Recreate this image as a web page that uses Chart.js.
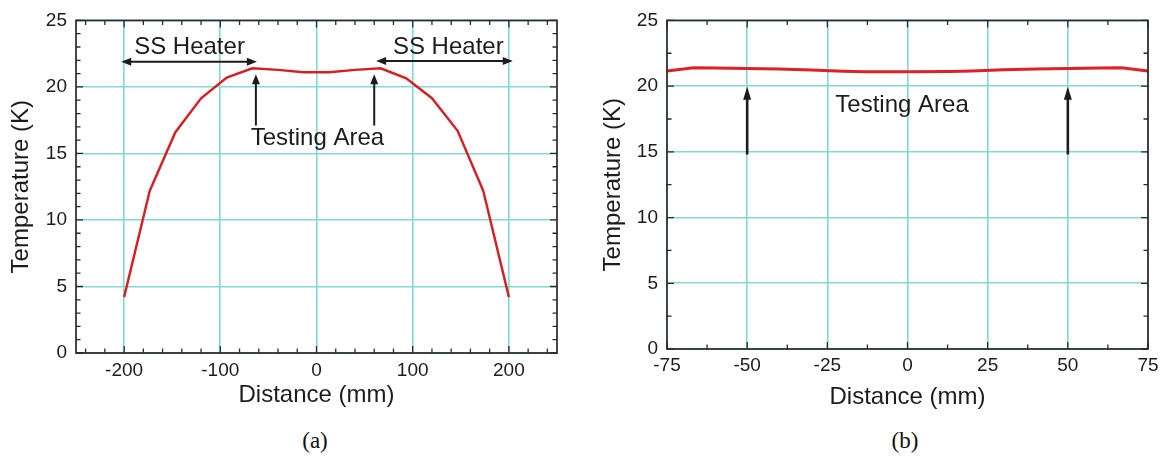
<!DOCTYPE html>
<html>
<head>
<meta charset="utf-8">
<script src="https://cdn.jsdelivr.net/npm/chart.js@4.4.1/dist/chart.umd.min.js"></script>
<style>
  html, body { margin: 0; padding: 0; background: #fff; width: 1164px; height: 469px; overflow: hidden; }
  .panel { position: absolute; top: 0; height: 420px; }
  #wrapA { left: 0; width: 580px; }
  #wrapB { left: 580px; width: 584px; }
  .cap { position: absolute; top: 428px; width: 80px; text-align: center;
         font-family: "Liberation Serif", "Times New Roman", serif; font-size: 23px; color: #111; }
</style>
</head>
<body>
<div class="panel" id="wrapA"><canvas id="chartA" width="580" height="420"></canvas></div>
<div class="panel" id="wrapB"><canvas id="chartB" width="584" height="420"></canvas></div>
<div class="cap" style="left:275px">(a)</div>
<div class="cap" style="left:865px">(b)</div>
<script>
// (a) full temperature profile along the sample holder
const distA = [-200, -173.3, -146.7, -120, -93.3, -66.7, -40, -13.3, 13.3, 40, 66.7, 93.3, 120, 146.7, 173.3, 200];
const tempA = [4.2, 12.2, 16.6, 19.15, 20.7, 21.4, 21.28, 21.1, 21.1, 21.28, 21.4, 20.65, 19.15, 16.7, 12.2, 4.2];

// (b) close-up of the central testing area
const distB = [-75, -66.7, -60, -50, -40, -30, -20, -13.3, 0, 13.3, 20, 30, 40, 50, 60, 66.7, 75];
const tempB = [21.15, 21.4, 21.38, 21.35, 21.3, 21.22, 21.14, 21.1, 21.1, 21.12, 21.15, 21.24, 21.3, 21.35, 21.38, 21.4, 21.15];

// tick labels
const xTicksA = [-200, -100, 0, 100, 200];
const xTicksB = [-75, -50, -25, 0, 25, 50, 75];
const yTicks = [0, 5, 10, 15, 20, 25];

// callouts (in axis units)
const labelsA = [
  { text: 'SS Heater', x: -132, y: 23.0 },
  { text: 'SS Heater', x: 137, y: 23.0 },
  { text: 'Testing Area', x: 1, y: 16.15 }
];
const arrowsA = [
  { x1: -203, y1: 21.9, x2: -62, y2: 21.9, both: true },
  { x1: 62, y1: 21.95, x2: 204, y2: 21.95, both: true },
  { x1: -63, y1: 17.1, x2: -63, y2: 20.95 },
  { x1: 60, y1: 17.1, x2: 60, y2: 20.95 }
];
const labelsB = [
  { text: 'Testing Area', x: -1.7, y: 18.5 }
];
const arrowsB = [
  { x1: -50, y1: 14.8, x2: -50, y2: 19.95 },
  { x1: 50, y1: 14.8, x2: 50, y2: 19.95 }
];

const SANS = '"Liberation Sans", Arial, Helvetica, sans-serif';
const GRID = 'rgb(130, 216, 214)';
const INK = '#1c1c1c';

// Box frame with inward major/minor ticks on all four sides
const frameTicks = {
  id: 'frameTicks',
  afterDraw(chart, args, o) {
    const { ctx, chartArea: a, scales: { x, y } } = chart;
    ctx.save();
    ctx.strokeStyle = '#2a2a2a';
    ctx.lineWidth = 1.3;
    const isMajor = (v, step) => Math.abs(v / step - Math.round(v / step)) < 1e-6;
    for (let v = Math.ceil(x.min / o.xMinor - 1e-9) * o.xMinor; v <= x.max + 1e-9; v += o.xMinor) {
      const len = isMajor(v, o.xMajor) ? 7 : 4.5;
      const px = x.getPixelForValue(v);
      ctx.beginPath();
      ctx.moveTo(px, a.bottom); ctx.lineTo(px, a.bottom - len);
      ctx.moveTo(px, a.top); ctx.lineTo(px, a.top + len);
      ctx.stroke();
    }
    for (let v = Math.ceil(y.min / o.yMinor - 1e-9) * o.yMinor; v <= y.max + 1e-9; v += o.yMinor) {
      const len = isMajor(v, o.yMajor) ? 7 : 4.5;
      const py = y.getPixelForValue(v);
      ctx.beginPath();
      ctx.moveTo(a.left, py); ctx.lineTo(a.left + len, py);
      ctx.moveTo(a.right, py); ctx.lineTo(a.right - len, py);
      ctx.stroke();
    }
    ctx.lineWidth = 1.7;
    ctx.strokeRect(a.left, a.top, a.right - a.left, a.bottom - a.top);
    ctx.restore();
  }
};

function arrowHead(ctx, fx, fy, tx, ty, len, half) {
  const ang = Math.atan2(ty - fy, tx - fx);
  ctx.beginPath();
  ctx.moveTo(tx, ty);
  ctx.lineTo(tx - len * Math.cos(ang) + half * Math.sin(ang), ty - len * Math.sin(ang) - half * Math.cos(ang));
  ctx.lineTo(tx - len * Math.cos(ang) - half * Math.sin(ang), ty - len * Math.sin(ang) + half * Math.cos(ang));
  ctx.closePath();
  ctx.fill();
}

// Text labels and arrows placed in data coordinates
const callouts = {
  id: 'callouts',
  afterDraw(chart, args, o) {
    const { ctx, scales: { x, y } } = chart;
    ctx.save();
    ctx.fillStyle = INK;
    ctx.strokeStyle = INK;
    ctx.lineWidth = o.lineWidth;
    (o.arrows || []).forEach(ar => {
      const x1 = x.getPixelForValue(ar.x1), y1 = y.getPixelForValue(ar.y1);
      const x2 = x.getPixelForValue(ar.x2), y2 = y.getPixelForValue(ar.y2);
      const ang = Math.atan2(y2 - y1, x2 - x1);
      const sx = ar.both ? x1 + o.head * 0.8 * Math.cos(ang) : x1;
      const sy = ar.both ? y1 + o.head * 0.8 * Math.sin(ang) : y1;
      ctx.beginPath();
      ctx.moveTo(sx, sy);
      ctx.lineTo(x2 - o.head * 0.8 * Math.cos(ang), y2 - o.head * 0.8 * Math.sin(ang));
      ctx.stroke();
      arrowHead(ctx, x1, y1, x2, y2, o.head, o.halfWidth);
      if (ar.both) arrowHead(ctx, x2, y2, x1, y1, o.head, o.halfWidth);
    });
    ctx.font = o.font;
    ctx.textAlign = 'center';
    ctx.textBaseline = 'middle';
    (o.labels || []).forEach(l => {
      ctx.fillText(l.text, x.getPixelForValue(l.x), y.getPixelForValue(l.y));
    });
    ctx.restore();
  }
};

function makeChart(id, xs, ys, cfg) {
  const points = xs.map((v, i) => ({ x: v, y: ys[i] }));
  return new Chart(document.getElementById(id), {
    type: 'line',
    data: {
      datasets: [{
        data: points,
        borderColor: cfg.lineColor,
        borderWidth: cfg.lineWidth,
        pointRadius: 0,
        tension: 0,
        fill: false
      }]
    },
    options: {
      responsive: false,
      animation: false,
      devicePixelRatio: 1,
      layout: { padding: { top: cfg.top, right: cfg.right, left: 0, bottom: 0 } },
      plugins: {
        legend: { display: false },
        tooltip: { enabled: false },
        frameTicks: cfg.ticks,
        callouts: cfg.callouts
      },
      scales: {
        x: {
          type: 'linear',
          min: cfg.xMin, max: cfg.xMax,
          afterBuildTicks: s => { s.ticks = cfg.xTicks.map(v => ({ value: v })); },
          afterFit: s => { s.height = cfg.xAxisHeight; },
          grid: { color: GRID, lineWidth: 1.6, drawTicks: false },
          border: { display: false },
          ticks: { font: { family: SANS, size: 19 }, color: INK, padding: cfg.xTickPad, maxRotation: 0, autoSkip: false },
          title: { display: true, text: 'Distance (mm)', font: { family: SANS, size: 24 }, color: INK,
                   padding: { top: 0, bottom: cfg.xTitlePad } }
        },
        y: {
          min: 0, max: 25,
          afterBuildTicks: s => { s.ticks = yTicks.map(v => ({ value: v })); },
          afterFit: s => { s.width = cfg.yAxisWidth; },
          grid: { color: GRID, lineWidth: 1.6, drawTicks: false },
          border: { display: false },
          ticks: { font: { family: SANS, size: 19 }, color: INK, padding: 9, autoSkip: false },
          title: { display: true, text: 'Temperature (K)', font: { family: SANS, size: 24 }, color: INK,
                   padding: { top: cfg.yTitlePad, bottom: 0 } }
        }
      }
    },
    plugins: [frameTicks, callouts]
  });
}

makeChart('chartA', distA, tempA, {
  lineColor: '#d41f23', lineWidth: 2.4,
  top: 20, right: 23, xAxisHeight: 67, yAxisWidth: 76,
  xMin: -250, xMax: 250, xTicks: xTicksA,
  xTickPad: 6, xTitlePad: 10, yTitlePad: 7,
  ticks: { xMajor: 100, xMinor: 20, yMajor: 5, yMinor: 1 },
  callouts: { labels: labelsA, arrows: arrowsA, font: '24px ' + SANS, lineWidth: 2, head: 10, halfWidth: 4 }
});

makeChart('chartB', distB, tempB, {
  lineColor: '#dc2128', lineWidth: 3,
  top: 20, right: 16, xAxisHeight: 71, yAxisWidth: 87,
  xMin: -75, xMax: 75, xTicks: xTicksB,
  xTickPad: 5, xTitlePad: 8, yTitlePad: 19,
  ticks: { xMajor: 25, xMinor: 12.5, yMajor: 5, yMinor: 2.5 },
  callouts: { labels: labelsB, arrows: arrowsB, font: '24px ' + SANS, lineWidth: 2.6, head: 13, halfWidth: 4 }
});
</script>
</body>
</html>
